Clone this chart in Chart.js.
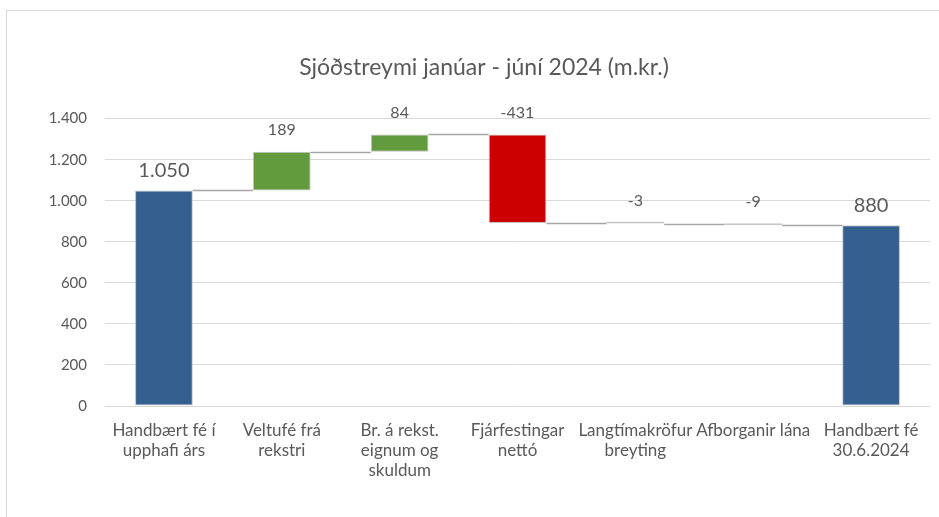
<!DOCTYPE html>
<html>
<head>
<meta charset="utf-8">
<script src="https://cdn.jsdelivr.net/npm/chart.js@4.4.1/dist/chart.umd.min.js"></script>
<style>
  html, body { margin: 0; padding: 0; background: #fff; }
  #frame { position: absolute; left: 6px; top: 10px; width: 960px; height: 540px; border-top: 1px solid #d9d9d9; border-left: 1px solid #d9d9d9; }
  #wrap { position: absolute; left: 0; top: 0; width: 939px; height: 517px; }
</style>
</head>
<body>
<div id="frame"></div>
<div id="wrap"><canvas id="c" width="939" height="517"></canvas></div>
<script>
const categories = [
  ["Handbært fé í", "upphafi árs"],
  ["Veltufé frá", "rekstri"],
  ["Br. á rekst.", "eignum og", "skuldum"],
  ["Fjárfestingar", "nettó"],
  ["Langtímakröfur", "breyting"],
  ["Afborganir lána"],
  ["Handbært fé", "30.6.2024"]
];
const changes = [1050, 189, 84, -431, -3, -9, 880];
const isTotal = [true, false, false, false, false, false, true];
const yTicks = [0, 200, 400, 600, 800, 1000, 1200, 1400];

const colTotal = '#355f8f';
const colUp = '#629a3e';
const colDown = '#cc0000';

// floating ranges from the cumulative sum
const ranges = [];
let run = 0;
changes.forEach((v, i) => {
  if (isTotal[i]) { ranges.push([0, v]); run = v; }
  else { ranges.push([run, run + v]); run += v; }
});
const colors = changes.map((v, i) => isTotal[i] ? colTotal : (v >= 0 ? colUp : colDown));

function fmt(n) {
  const s = Math.abs(n).toString().replace(/\B(?=(\d{3})+(?!\d))/g, '.');
  return (n < 0 ? '-' : '') + s;
}

const FONT = 'Lato, "Open Sans", sans-serif';

const waterfallPlugin = {
  id: 'waterfall',
  afterDatasetsDraw(chart) {
    const ctx = chart.ctx;
    const meta = chart.getDatasetMeta(0);
    const y = chart.scales.y;
    ctx.save();
    // connectors
    ctx.strokeStyle = '#a6a6a6';
    ctx.lineWidth = 1.5;
    for (let i = 0; i < ranges.length - 1; i++) {
      const b = meta.data[i], n = meta.data[i + 1];
      const level = ranges[i][1];
      const py = Math.round(y.getPixelForValue(level)) + 0.5;
      ctx.beginPath();
      ctx.moveTo(b.x + b.width / 2, py);
      ctx.lineTo(n.x - n.width / 2, py);
      ctx.stroke();
    }
    // labels
    ctx.fillStyle = '#595959';
    ctx.textAlign = 'center';
    ctx.textBaseline = 'middle';
    for (let i = 0; i < ranges.length; i++) {
      const b = meta.data[i];
      const top = Math.max(ranges[i][0], ranges[i][1]);
      const py = y.getPixelForValue(top);
      ctx.font = (isTotal[i] ? '20px ' : '16px ') + FONT;
      ctx.fillText(fmt(changes[i]), b.x, py - (isTotal[i] ? 20 : 22));
    }
    ctx.restore();
  }
};

new Chart(document.getElementById('c'), {
  type: 'bar',
  data: {
    labels: categories,
    datasets: [{
      data: ranges,
      backgroundColor: colors,
      borderColor: '#c4c4c4',
      borderWidth: 1,
      borderSkipped: false,
      minBarLength: 2,
      categoryPercentage: 1,
      barPercentage: 0.49
    }]
  },
  options: {
    responsive: false,
    animation: false,
    layout: { padding: { left: 38, right: 9, top: 0, bottom: 0 } },
    plugins: {
      legend: { display: false },
      tooltip: { enabled: false },
      title: {
        display: true,
        text: 'Sjóðstreymi janúar - júní 2024 (m.kr.)',
        color: '#595959',
        font: { family: FONT, size: 23, weight: 'normal', lineHeight: 1.2 },
        padding: { top: 54, bottom: 37 }
      }
    },
    scales: {
      x: {
        grid: { display: false, drawTicks: false },
        border: { display: false },
        ticks: { color: '#595959', font: { family: FONT, size: 17, lineHeight: 1.18 }, padding: 14, maxRotation: 0, autoSkip: false },
        afterFit(scale) { scale.height = 111; }
      },
      y: {
        min: 0, max: 1400,
        afterBuildTicks(scale) { scale.ticks = yTicks.map(v => ({ value: v })); },
        grid: { color: '#d9d9d9', drawTicks: false, lineWidth: 1 },
        border: { display: false },
        ticks: { color: '#595959', font: { family: FONT, size: 15 }, padding: 18, callback: v => fmt(v) },
        afterFit(scale) { scale.width = 67; }
      }
    }
  },
  plugins: [waterfallPlugin]
});
</script>
</body>
</html>
